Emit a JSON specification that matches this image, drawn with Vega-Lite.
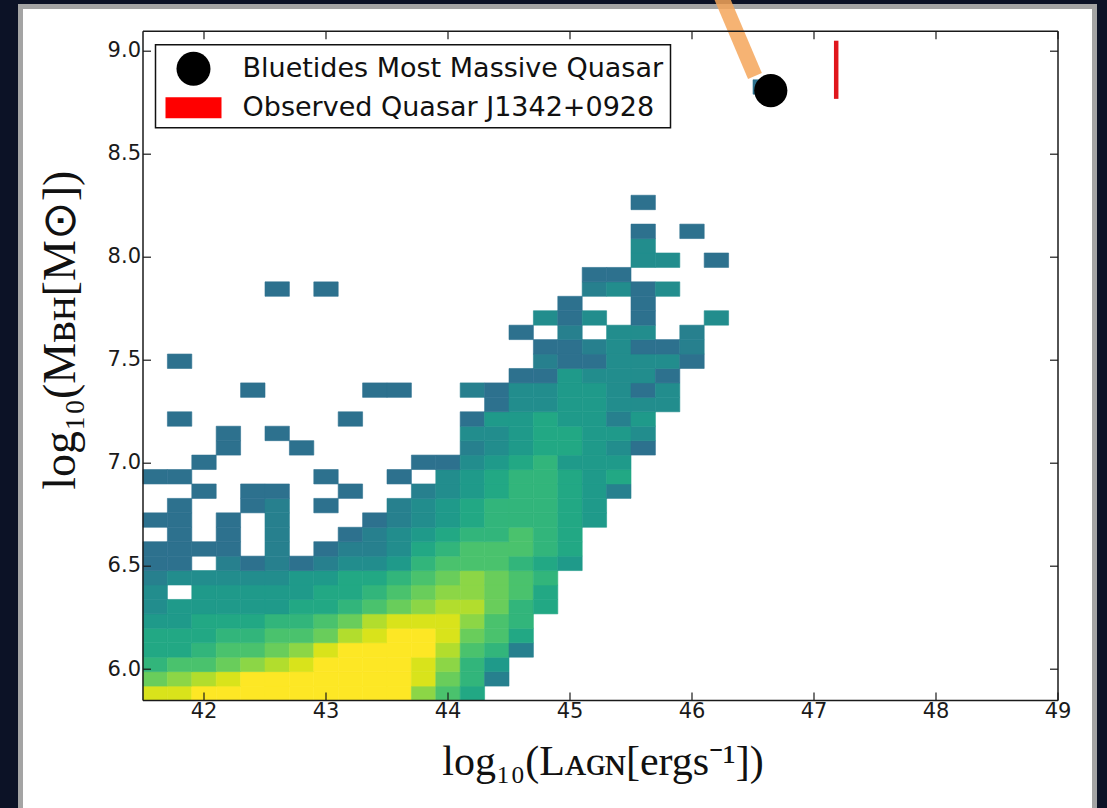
{
  "$schema": "https://vega.github.io/schema/vega-lite/v6.json",
  "width": 915,
  "height": 669.3,
  "autosize": {"type": "none"},
  "padding": {"left": 142.5, "top": 30.7, "right": 49.5, "bottom": 108},
  "background": "#0c1226",
  "config": {
    "view": {"stroke": null},
    "font": "DejaVu Sans",
    "legend": {
      "orient": "none",
      "legendX": 13,
      "legendY": 14,
      "direction": "vertical",
      "padding": 7,
      "strokeColor": "#111111",
      "strokeWidth": 1.5,
      "fillColor": "#ffffff",
      "cornerRadius": 0,
      "labelFont": "DejaVu Sans",
      "labelFontSize": 27,
      "labelColor": "#111111",
      "labelLimit": 0,
      "symbolSize": 1156,
      "symbolOffset": 14,
      "labelOffset": 32,
      "rowPadding": 5,
      "symbolStrokeWidth": 0,
      "zindex": 3
    }
  },
  "resolve": {"axis": {"x": "independent", "y": "independent"}},
  "datasets": {
    "panelOuter": [{"x": 40.4795, "x2": 49.3238, "y": 5.25, "y2": 9.2249}],
    "panelInner": [{"x": 40.5205, "x2": 49.2828, "y": 5.25, "y2": 9.2007}],
    "cells": [
      {"x":41.5,"y":5.85,"n":11},{"x":41.7,"y":5.85,"n":11},{"x":41.9,"y":5.85,"n":12},{"x":42.1,"y":5.85,"n":12},{"x":42.3,"y":5.85,"n":12},{"x":42.5,"y":5.85,"n":12},{"x":42.7,"y":5.85,"n":12},{"x":42.9,"y":5.85,"n":12},{"x":43.1,"y":5.85,"n":12},{"x":43.3,"y":5.85,"n":12},{"x":43.5,"y":5.85,"n":12},{"x":43.7,"y":5.85,"n":9},{"x":43.9,"y":5.85,"n":7},{"x":44.1,"y":5.85,"n":5},
      {"x":41.5,"y":5.92,"n":8},{"x":41.7,"y":5.92,"n":9},{"x":41.9,"y":5.92,"n":10},{"x":42.1,"y":5.92,"n":11},{"x":42.3,"y":5.92,"n":12},{"x":42.5,"y":5.92,"n":12},{"x":42.7,"y":5.92,"n":12},{"x":42.9,"y":5.92,"n":12},{"x":43.1,"y":5.92,"n":12},{"x":43.3,"y":5.92,"n":12},{"x":43.5,"y":5.92,"n":12},{"x":43.7,"y":5.92,"n":11},{"x":43.9,"y":5.92,"n":8},{"x":44.1,"y":5.92,"n":6},{"x":44.3,"y":5.92,"n":2},
      {"x":41.5,"y":5.99,"n":6},{"x":41.7,"y":5.99,"n":7},{"x":41.9,"y":5.99,"n":7},{"x":42.1,"y":5.99,"n":8},{"x":42.3,"y":5.99,"n":9},{"x":42.5,"y":5.99,"n":10},{"x":42.7,"y":5.99,"n":11},{"x":42.9,"y":5.99,"n":12},{"x":43.1,"y":5.99,"n":12},{"x":43.3,"y":5.99,"n":12},{"x":43.5,"y":5.99,"n":12},{"x":43.7,"y":5.99,"n":11},{"x":43.9,"y":5.99,"n":9},{"x":44.1,"y":5.99,"n":6},{"x":44.3,"y":5.99,"n":4},
      {"x":41.5,"y":6.06,"n":5},{"x":41.7,"y":6.06,"n":5},{"x":41.9,"y":6.06,"n":6},{"x":42.1,"y":6.06,"n":7},{"x":42.3,"y":6.06,"n":7},{"x":42.5,"y":6.06,"n":8},{"x":42.7,"y":6.06,"n":9},{"x":42.9,"y":6.06,"n":11},{"x":43.1,"y":6.06,"n":12},{"x":43.3,"y":6.06,"n":12},{"x":43.5,"y":6.06,"n":12},{"x":43.7,"y":6.06,"n":12},{"x":43.9,"y":6.06,"n":10},{"x":44.1,"y":6.06,"n":7},{"x":44.3,"y":6.06,"n":6},{"x":44.5,"y":6.06,"n":2},
      {"x":41.5,"y":6.13,"n":5},{"x":41.7,"y":6.13,"n":5},{"x":41.9,"y":6.13,"n":5},{"x":42.1,"y":6.13,"n":6},{"x":42.3,"y":6.13,"n":6},{"x":42.5,"y":6.13,"n":7},{"x":42.7,"y":6.13,"n":7},{"x":42.9,"y":6.13,"n":8},{"x":43.1,"y":6.13,"n":10},{"x":43.3,"y":6.13,"n":11},{"x":43.5,"y":6.13,"n":12},{"x":43.7,"y":6.13,"n":12},{"x":43.9,"y":6.13,"n":11},{"x":44.1,"y":6.13,"n":8},{"x":44.3,"y":6.13,"n":7},{"x":44.5,"y":6.13,"n":5},
      {"x":41.5,"y":6.2,"n":4},{"x":41.7,"y":6.2,"n":4},{"x":41.9,"y":6.2,"n":5},{"x":42.1,"y":6.2,"n":5},{"x":42.3,"y":6.2,"n":5},{"x":42.5,"y":6.2,"n":6},{"x":42.7,"y":6.2,"n":6},{"x":42.9,"y":6.2,"n":7},{"x":43.1,"y":6.2,"n":8},{"x":43.3,"y":6.2,"n":10},{"x":43.5,"y":6.2,"n":11},{"x":43.7,"y":6.2,"n":11},{"x":43.9,"y":6.2,"n":11},{"x":44.1,"y":6.2,"n":9},{"x":44.3,"y":6.2,"n":7},{"x":44.5,"y":6.2,"n":6},
      {"x":41.5,"y":6.27,"n":3},{"x":41.7,"y":6.27,"n":4},{"x":41.9,"y":6.27,"n":4},{"x":42.1,"y":6.27,"n":4},{"x":42.3,"y":6.27,"n":4},{"x":42.5,"y":6.27,"n":4},{"x":42.7,"y":6.27,"n":5},{"x":42.9,"y":6.27,"n":5},{"x":43.1,"y":6.27,"n":6},{"x":43.3,"y":6.27,"n":7},{"x":43.5,"y":6.27,"n":8},{"x":43.7,"y":6.27,"n":9},{"x":43.9,"y":6.27,"n":10},{"x":44.1,"y":6.27,"n":10},{"x":44.3,"y":6.27,"n":8},{"x":44.5,"y":6.27,"n":6},{"x":44.7,"y":6.27,"n":5},
      {"x":41.5,"y":6.34,"n":3},{"x":41.9,"y":6.34,"n":4},{"x":42.1,"y":6.34,"n":4},{"x":42.3,"y":6.34,"n":4},{"x":42.5,"y":6.34,"n":4},{"x":42.7,"y":6.34,"n":4},{"x":42.9,"y":6.34,"n":5},{"x":43.1,"y":6.34,"n":5},{"x":43.3,"y":6.34,"n":6},{"x":43.5,"y":6.34,"n":7},{"x":43.7,"y":6.34,"n":8},{"x":43.9,"y":6.34,"n":9},{"x":44.1,"y":6.34,"n":9},{"x":44.3,"y":6.34,"n":8},{"x":44.5,"y":6.34,"n":7},{"x":44.7,"y":6.34,"n":5},
      {"x":41.5,"y":6.41,"n":2},{"x":41.7,"y":6.41,"n":3},{"x":41.9,"y":6.41,"n":3},{"x":42.1,"y":6.41,"n":3},{"x":42.3,"y":6.41,"n":3},{"x":42.5,"y":6.41,"n":3},{"x":42.7,"y":6.41,"n":4},{"x":42.9,"y":6.41,"n":4},{"x":43.1,"y":6.41,"n":5},{"x":43.3,"y":6.41,"n":5},{"x":43.5,"y":6.41,"n":6},{"x":43.7,"y":6.41,"n":7},{"x":43.9,"y":6.41,"n":8},{"x":44.1,"y":6.41,"n":9},{"x":44.3,"y":6.41,"n":8},{"x":44.5,"y":6.41,"n":7},{"x":44.7,"y":6.41,"n":6},
      {"x":41.5,"y":6.48,"n":1},{"x":41.7,"y":6.48,"n":1},{"x":42.1,"y":6.48,"n":2},{"x":42.3,"y":6.48,"n":1},{"x":42.5,"y":6.48,"n":2},{"x":42.7,"y":6.48,"n":1},{"x":42.9,"y":6.48,"n":2},{"x":43.1,"y":6.48,"n":3},{"x":43.3,"y":6.48,"n":3},{"x":43.5,"y":6.48,"n":4},{"x":43.7,"y":6.48,"n":6},{"x":43.9,"y":6.48,"n":7},{"x":44.1,"y":6.48,"n":7},{"x":44.3,"y":6.48,"n":7},{"x":44.5,"y":6.48,"n":6},{"x":44.7,"y":6.48,"n":5},{"x":44.9,"y":6.48,"n":4},
      {"x":41.5,"y":6.55,"n":1},{"x":41.7,"y":6.55,"n":1},{"x":41.9,"y":6.55,"n":1},{"x":42.1,"y":6.55,"n":1},{"x":42.5,"y":6.55,"n":2},{"x":42.9,"y":6.55,"n":1},{"x":43.1,"y":6.55,"n":2},{"x":43.3,"y":6.55,"n":2},{"x":43.5,"y":6.55,"n":3},{"x":43.7,"y":6.55,"n":5},{"x":43.9,"y":6.55,"n":6},{"x":44.1,"y":6.55,"n":7},{"x":44.3,"y":6.55,"n":7},{"x":44.5,"y":6.55,"n":7},{"x":44.7,"y":6.55,"n":6},{"x":44.9,"y":6.55,"n":5},
      {"x":41.7,"y":6.62,"n":1},{"x":42.1,"y":6.62,"n":1},{"x":42.5,"y":6.62,"n":2},{"x":43.1,"y":6.62,"n":1},{"x":43.3,"y":6.62,"n":2},{"x":43.5,"y":6.62,"n":3},{"x":43.7,"y":6.62,"n":4},{"x":43.9,"y":6.62,"n":5},{"x":44.1,"y":6.62,"n":6},{"x":44.3,"y":6.62,"n":6},{"x":44.5,"y":6.62,"n":7},{"x":44.7,"y":6.62,"n":6},{"x":44.9,"y":6.62,"n":5},
      {"x":41.5,"y":6.69,"n":1},{"x":41.7,"y":6.69,"n":1},{"x":42.1,"y":6.69,"n":1},{"x":42.5,"y":6.69,"n":2},{"x":43.3,"y":6.69,"n":1},{"x":43.5,"y":6.69,"n":2},{"x":43.7,"y":6.69,"n":3},{"x":43.9,"y":6.69,"n":4},{"x":44.1,"y":6.69,"n":5},{"x":44.3,"y":6.69,"n":6},{"x":44.5,"y":6.69,"n":6},{"x":44.7,"y":6.69,"n":6},{"x":44.9,"y":6.69,"n":5},{"x":45.1,"y":6.69,"n":4},
      {"x":41.7,"y":6.76,"n":1},{"x":42.3,"y":6.76,"n":1},{"x":42.5,"y":6.76,"n":2},{"x":42.9,"y":6.76,"n":1},{"x":43.5,"y":6.76,"n":2},{"x":43.7,"y":6.76,"n":3},{"x":43.9,"y":6.76,"n":4},{"x":44.1,"y":6.76,"n":5},{"x":44.3,"y":6.76,"n":6},{"x":44.5,"y":6.76,"n":6},{"x":44.7,"y":6.76,"n":6},{"x":44.9,"y":6.76,"n":5},{"x":45.1,"y":6.76,"n":4},
      {"x":41.9,"y":6.83,"n":1},{"x":42.3,"y":6.83,"n":1},{"x":42.5,"y":6.83,"n":1},{"x":43.1,"y":6.83,"n":1},{"x":43.7,"y":6.83,"n":2},{"x":43.9,"y":6.83,"n":3},{"x":44.1,"y":6.83,"n":4},{"x":44.3,"y":6.83,"n":5},{"x":44.5,"y":6.83,"n":6},{"x":44.7,"y":6.83,"n":6},{"x":44.9,"y":6.83,"n":5},{"x":45.1,"y":6.83,"n":4},{"x":45.3,"y":6.83,"n":2},
      {"x":41.5,"y":6.9,"n":1},{"x":41.7,"y":6.9,"n":1},{"x":42.9,"y":6.9,"n":1},{"x":43.5,"y":6.9,"n":1},{"x":43.9,"y":6.9,"n":3},{"x":44.1,"y":6.9,"n":4},{"x":44.3,"y":6.9,"n":5},{"x":44.5,"y":6.9,"n":6},{"x":44.7,"y":6.9,"n":6},{"x":44.9,"y":6.9,"n":5},{"x":45.1,"y":6.9,"n":4},{"x":45.3,"y":6.9,"n":5},
      {"x":41.9,"y":6.97,"n":1},{"x":43.7,"y":6.97,"n":1},{"x":43.9,"y":6.97,"n":1},{"x":44.1,"y":6.97,"n":3},{"x":44.3,"y":6.97,"n":4},{"x":44.5,"y":6.97,"n":5},{"x":44.7,"y":6.97,"n":6},{"x":44.9,"y":6.97,"n":4},{"x":45.1,"y":6.97,"n":4},{"x":45.3,"y":6.97,"n":4},
      {"x":42.1,"y":7.04,"n":1},{"x":42.7,"y":7.04,"n":1},{"x":44.1,"y":7.04,"n":2},{"x":44.3,"y":7.04,"n":3},{"x":44.5,"y":7.04,"n":4},{"x":44.7,"y":7.04,"n":5},{"x":44.9,"y":7.04,"n":5},{"x":45.1,"y":7.04,"n":4},{"x":45.3,"y":7.04,"n":3},{"x":45.5,"y":7.04,"n":1},
      {"x":42.1,"y":7.11,"n":1},{"x":42.5,"y":7.11,"n":1},{"x":44.1,"y":7.11,"n":3},{"x":44.3,"y":7.11,"n":3},{"x":44.5,"y":7.11,"n":4},{"x":44.7,"y":7.11,"n":5},{"x":44.9,"y":7.11,"n":5},{"x":45.1,"y":7.11,"n":4},{"x":45.3,"y":7.11,"n":4},{"x":45.5,"y":7.11,"n":3},
      {"x":41.7,"y":7.18,"n":1},{"x":43.1,"y":7.18,"n":1},{"x":44.1,"y":7.18,"n":1},{"x":44.3,"y":7.18,"n":4},{"x":44.5,"y":7.18,"n":4},{"x":44.7,"y":7.18,"n":5},{"x":44.9,"y":7.18,"n":4},{"x":45.1,"y":7.18,"n":4},{"x":45.3,"y":7.18,"n":2},{"x":45.5,"y":7.18,"n":4},
      {"x":44.3,"y":7.25,"n":1},{"x":44.5,"y":7.25,"n":3},{"x":44.7,"y":7.25,"n":3},{"x":44.9,"y":7.25,"n":4},{"x":45.1,"y":7.25,"n":4},{"x":45.3,"y":7.25,"n":3},{"x":45.5,"y":7.25,"n":3},{"x":45.7,"y":7.25,"n":3},
      {"x":42.3,"y":7.32,"n":1},{"x":43.3,"y":7.32,"n":1},{"x":43.5,"y":7.32,"n":1},{"x":44.1,"y":7.32,"n":2},{"x":44.3,"y":7.32,"n":1},{"x":44.5,"y":7.32,"n":3},{"x":44.7,"y":7.32,"n":3},{"x":44.9,"y":7.32,"n":4},{"x":45.1,"y":7.32,"n":4},{"x":45.3,"y":7.32,"n":3},{"x":45.5,"y":7.32,"n":1},{"x":45.7,"y":7.32,"n":3},
      {"x":44.5,"y":7.39,"n":1},{"x":44.7,"y":7.39,"n":1},{"x":44.9,"y":7.39,"n":4},{"x":45.1,"y":7.39,"n":3},{"x":45.3,"y":7.39,"n":3},{"x":45.5,"y":7.39,"n":3},{"x":45.7,"y":7.39,"n":1},
      {"x":41.7,"y":7.46,"n":1},{"x":44.7,"y":7.46,"n":2},{"x":44.9,"y":7.46,"n":1},{"x":45.1,"y":7.46,"n":1},{"x":45.3,"y":7.46,"n":3},{"x":45.5,"y":7.46,"n":3},{"x":45.7,"y":7.46,"n":3},{"x":45.9,"y":7.46,"n":1},
      {"x":44.7,"y":7.53,"n":1},{"x":44.9,"y":7.53,"n":1},{"x":45.1,"y":7.53,"n":2},{"x":45.3,"y":7.53,"n":3},{"x":45.5,"y":7.53,"n":1},{"x":45.7,"y":7.53,"n":1},{"x":45.9,"y":7.53,"n":2},
      {"x":44.5,"y":7.6,"n":1},{"x":44.9,"y":7.6,"n":2},{"x":45.3,"y":7.6,"n":3},{"x":45.5,"y":7.6,"n":3},{"x":45.9,"y":7.6,"n":2},
      {"x":44.7,"y":7.67,"n":3},{"x":44.9,"y":7.67,"n":1},{"x":45.1,"y":7.67,"n":3},{"x":45.5,"y":7.67,"n":1},{"x":46.1,"y":7.67,"n":3},
      {"x":44.9,"y":7.74,"n":1},{"x":45.5,"y":7.74,"n":1},
      {"x":42.5,"y":7.81,"n":1},{"x":42.9,"y":7.81,"n":1},{"x":45.1,"y":7.81,"n":2},{"x":45.3,"y":7.81,"n":3},{"x":45.5,"y":7.81,"n":1},{"x":45.7,"y":7.81,"n":3},
      {"x":45.1,"y":7.88,"n":1},{"x":45.3,"y":7.88,"n":1},
      {"x":45.5,"y":7.95,"n":3},{"x":45.7,"y":7.95,"n":3},{"x":46.1,"y":7.95,"n":1},
      {"x":45.5,"y":8.02,"n":3},
      {"x":45.5,"y":8.09,"n":1},{"x":45.9,"y":8.09,"n":1},
      {"x":45.5,"y":8.23,"n":1},
      {"x":46.5,"y":8.79,"n":1}
    ],
    "arrow": [{"x": 46.221, "y": 9.293}, {"x": 46.52, "y": 8.876}],
    "observed": [{"name": "Observed Quasar J1342+0928", "x": 47.186, "y": 8.765, "y2": 9.047}],
    "bluetides": [{"name": "Bluetides Most Massive Quasar", "x": 46.65, "y": 8.805}]
  },
  "layer": [
    {
      "data": {"name": "panelOuter"},
      "mark": {"type": "rect", "fill": "#a4a4a4", "clip": false},
      "encoding": {
        "x": {"field": "x", "type": "quantitative", "scale": {"domain": [41.5, 49], "nice": false, "zero": false}, "axis": null},
        "x2": {"field": "x2"},
        "y": {"field": "y", "type": "quantitative", "scale": {"domain": [5.85, 9.0955], "nice": false, "zero": false}, "axis": null},
        "y2": {"field": "y2"}
      }
    },
    {
      "data": {"name": "panelInner"},
      "mark": {"type": "rect", "fill": "#ffffff", "clip": false},
      "encoding": {
        "x": {"field": "x", "type": "quantitative", "scale": {"domain": [41.5, 49], "nice": false, "zero": false}, "axis": null},
        "x2": {"field": "x2"},
        "y": {"field": "y", "type": "quantitative", "scale": {"domain": [5.85, 9.0955], "nice": false, "zero": false}, "axis": null},
        "y2": {"field": "y2"}
      }
    },
    {
      "data": {"name": "cells"},
      "mark": {"type": "rect", "strokeWidth": 0.6},
      "encoding": {
        "x": {
          "field": "x", "type": "quantitative", "bin": {"binned": true, "step": 0.2},
          "scale": {"domain": [41.5, 49], "nice": false, "zero": false},
          "axis": {
            "orient": "bottom", "values": [42, 43, 44, 45, 46, 47, 48, 49], "format": "d",
            "title": "log₁₀(Lᴀɢɴ[ergs⁻¹])", "grid": false,
            "domain": true, "domainColor": "#1a1a1a", "domainWidth": 1.5,
            "ticks": true, "tickSize": -8, "tickColor": "#1a1a1a", "tickWidth": 1.2,
            "labelPadding": 8, "labelFont": "DejaVu Sans", "labelFontSize": 21, "labelColor": "#1a1a1a",
            "labelFlush": false, "labelOverlap": false,
            "titleFont": "Liberation Serif", "titleFontSize": 42, "titleFontWeight": "normal", "titleColor": "#111111",
            "titleBaseline": "alphabetic", "titleY": 74, "titleX": 460,
            "zindex": 1
          }
        },
        "y": {
          "field": "y", "type": "quantitative", "bin": {"binned": true, "step": 0.07},
          "scale": {"domain": [5.85, 9.0955], "nice": false, "zero": false},
          "axis": {
            "orient": "left", "values": [6.0, 6.5, 7.0, 7.5, 8.0, 8.5, 9.0], "format": ".1f",
            "title": "log₁₀(Mʙʜ[M⊙])", "grid": false,
            "domain": true, "domainColor": "#1a1a1a", "domainWidth": 1.5,
            "ticks": true, "tickSize": -8, "tickColor": "#1a1a1a", "tickWidth": 1.2,
            "labelPadding": 10, "labelFont": "DejaVu Sans", "labelFontSize": 21, "labelColor": "#1a1a1a",
            "labelOverlap": false, "labelFlush": false,
            "titleFont": "Liberation Serif", "titleFontSize": 46, "titleFontWeight": "normal", "titleColor": "#111111",
            "titleBaseline": "alphabetic", "titleAlign": "center", "titleAngle": -90, "titleX": -68.5, "titleY": 299,
            "zindex": 1
          }
        },
        "fill": {"field": "n", "type": "quantitative", "scale": {"scheme": "viridis", "domain": [-5.5, 12]}, "legend": null},
        "stroke": {"field": "n", "type": "quantitative", "scale": {"scheme": "viridis", "domain": [-5.5, 12]}, "legend": null}
      }
    },
    {
      "data": {"name": "arrow"},
      "mark": {"type": "line", "stroke": "#f5a65b", "opacity": 0.85, "strokeWidth": 15, "strokeCap": "butt", "clip": false},
      "encoding": {
        "x": {"field": "x", "type": "quantitative", "scale": {"domain": [41.5, 49], "nice": false, "zero": false}, "axis": null},
        "y": {"field": "y", "type": "quantitative", "scale": {"domain": [5.85, 9.0955], "nice": false, "zero": false}, "axis": null}
      }
    },
    {
      "data": {"name": "observed"},
      "mark": {"type": "rule", "stroke": "#e0161c", "strokeWidth": 4.5},
      "encoding": {
        "x": {
          "field": "x", "type": "quantitative",
          "scale": {"domain": [41.5, 49], "nice": false, "zero": false},
          "axis": {
            "orient": "top", "values": [42, 43, 44, 45, 46, 47, 48, 49], "labels": false, "title": null, "grid": false,
            "domain": true, "domainColor": "#1a1a1a", "domainWidth": 1.5,
            "ticks": true, "tickSize": -8, "tickColor": "#1a1a1a", "tickWidth": 1.2, "zindex": 1
          }
        },
        "y": {
          "field": "y", "type": "quantitative",
          "scale": {"domain": [5.85, 9.0955], "nice": false, "zero": false},
          "axis": {
            "orient": "right", "values": [6.0, 6.5, 7.0, 7.5, 8.0, 8.5, 9.0], "labels": false, "title": null, "grid": false,
            "domain": true, "domainColor": "#1a1a1a", "domainWidth": 1.5,
            "ticks": true, "tickSize": -8, "tickColor": "#1a1a1a", "tickWidth": 1.2, "zindex": 1
          }
        },
        "y2": {"field": "y2"}
      }
    },
    {
      "data": {"name": "bluetides"},
      "mark": {"type": "point", "filled": true, "opacity": 1, "size": 1100},
      "encoding": {
        "x": {"field": "x", "type": "quantitative", "scale": {"domain": [41.5, 49], "nice": false, "zero": false}, "axis": null},
        "y": {"field": "y", "type": "quantitative", "scale": {"domain": [5.85, 9.0955], "nice": false, "zero": false}, "axis": null},
        "color": {
          "field": "name", "type": "nominal",
          "scale": {"domain": ["Bluetides Most Massive Quasar", "Observed Quasar J1342+0928"], "range": ["#000000", "#ff0000"]},
          "legend": {"title": null}
        },
        "shape": {
          "field": "name", "type": "nominal",
          "scale": {"domain": ["Bluetides Most Massive Quasar", "Observed Quasar J1342+0928"], "range": ["circle", "M-1.647,-0.618H1.647V0.618H-1.647Z"]},
          "legend": {"title": null}
        }
      }
    }
  ]
}
